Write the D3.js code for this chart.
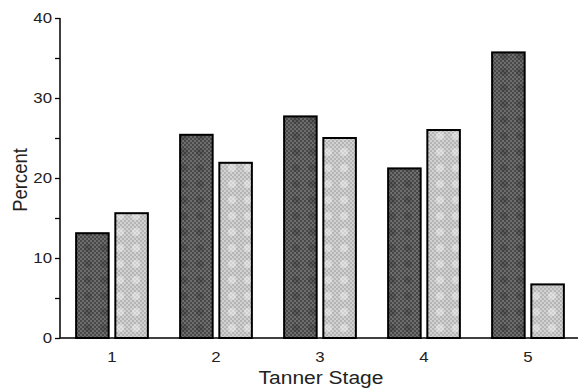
<!DOCTYPE html>
<html><head><meta charset="utf-8">
<script src="https://cdn.jsdelivr.net/npm/d3@7"></script>
<style>body{margin:0;background:#fff}svg{display:block}</style>
</head><body>
<svg id="c" width="581" height="389"></svg>
<script>
const stages = ["1","2","3","4","5"];
const seriesDark = [13.1, 25.4, 27.7, 21.2, 35.7];
const seriesLight = [15.6, 21.9, 25.0, 26.0, 6.7];
const yTicks = [0,5,10,15,20,25,30,35,40];
const yLabels = [0,10,20,30,40];

const FONT = "Liberation Sans, Arial, Helvetica, sans-serif";
const svg = d3.select("#c");
const defs = svg.append("defs");
function makePattern(id, c1, c2, blob, op){
  const p = defs.append("pattern").attr("id", id).attr("patternUnits","userSpaceOnUse")
    .attr("width",16).attr("height",16);
  p.append("rect").attr("width",16).attr("height",16).attr("fill",c1);
  for(let i=0;i<16;i+=2) for(let j=0;j<16;j+=2){
    if(((i+j)/2)%2===0) p.append("rect").attr("x",i).attr("y",j).attr("width",2).attr("height",2).attr("fill",c2);
  }
  p.append("circle").attr("cx",8).attr("cy",8).attr("r",4).attr("fill",blob).attr("opacity",op);
}
makePattern("pd","#6e6e6e","#484848","#303030",0.3);
makePattern("pl","#d2d2d2","#b4b4b4","#f4f4f4",0.45);

const x0 = d3.scaleBand().domain(stages).range([60,580]).paddingInner(0.31).paddingOuter(0.155);
const x1 = d3.scaleBand().domain(["d","l"]).range([0,x0.bandwidth()]).paddingInner(0.17);
const y = d3.scaleLinear().domain([0,40]).range([338,18]);

const g = svg.append("g");
stages.forEach((s,i)=>{
  [["d",seriesDark[i],"url(#pd)"],["l",seriesLight[i],"url(#pl)"]].forEach(([k,v,f])=>{
    g.append("rect").attr("x",x0(s)+x1(k)).attr("y",y(v))
      .attr("width",x1.bandwidth()).attr("height",y(0)-y(v))
      .attr("fill",f).attr("stroke","#000").attr("stroke-width",2);
  });
});

function stretch(sel){
  sel.each(function(){
    const w = this.getComputedTextLength();
    if (w>0) d3.select(this).attr("textLength", w*1.2).attr("lengthAdjust","spacingAndGlyphs");
  });
}

const yAxis = d3.axisLeft(y).tickValues(yTicks).tickSize(5).tickPadding(3)
  .tickFormat(d=> yLabels.includes(d) ? d : "");
const ya = svg.append("g").attr("transform","translate(60,0)").call(yAxis);
ya.select(".domain").attr("stroke","#000").attr("stroke-width",1.5).attr("d","M0,18V338");
ya.selectAll("line").attr("stroke","#000").attr("stroke-width",1.3);
ya.selectAll("text").attr("font-family",FONT).attr("font-size",14).attr("fill","#222").call(stretch);

const xAxis = d3.axisBottom(x0).tickSize(0).tickPadding(14);
const xa = svg.append("g").attr("transform","translate(0,338)").call(xAxis);
xa.select(".domain").attr("stroke","#000").attr("stroke-width",1.5).attr("d","M60,0H578");
xa.selectAll("text").attr("font-family",FONT).attr("font-size",14).attr("fill","#222").call(stretch);

svg.append("text").attr("x",321).attr("y",384).attr("text-anchor","middle")
  .attr("font-family",FONT).attr("font-size",17.5).attr("fill","#222").text("Tanner Stage").call(stretch);
svg.append("text").attr("transform","translate(27,180) scale(1.12,1) rotate(-90)").attr("text-anchor","middle")
  .attr("font-family",FONT).attr("font-size",18.5).attr("fill","#222").text("Percent");
</script>
</body></html>
